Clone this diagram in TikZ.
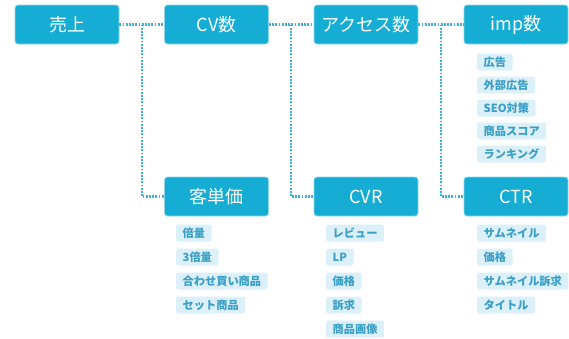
\documentclass[tikz,border=0pt]{standalone}
\usepackage{fontspec}
\setmainfont{Noto Sans CJK JP}
\usetikzlibrary{calc}
\definecolor{mainblue}{HTML}{15ADD3}
\definecolor{mainedge}{HTML}{8FD6EC}
\definecolor{tagfill}{HTML}{DBF0F8}
\definecolor{tagtext}{HTML}{3A9FC6}
\definecolor{dotcol}{HTML}{36B3DE}
\tikzset{
  mainbox/.style={draw=mainedge, line width=0.8pt, fill=mainblue, rounded corners=3pt,
    minimum width=104pt, minimum height=39pt, inner sep=0pt, text=white,
    font=\fontsize{18}{20}\selectfont},
  tagbox/.style={fill=tagfill, rounded corners=2pt, minimum height=17pt, inner xsep=6.5pt,
    inner ysep=0pt, text=tagtext, font=\bfseries\fontsize{11.2}{12}\selectfont, anchor=west},
  dotline/.style={draw=dotcol, line width=2.2pt, dash pattern=on 1.8pt off 1.4pt}
}
\begin{document}
\begin{tikzpicture}[x=1pt,y=-1pt]
\useasboundingbox (0,0) rectangle (569,338);
% main boxes
\node[mainbox] (uri) at (67,24.5) {売上};
\node[mainbox] (cv) at (216.5,24.5) {CV数};
\node[mainbox] (acc) at (366,24.5) {アクセス数};
\node[mainbox] (imp) at (516,24.5) {imp数};
\node[mainbox] (kyaku) at (216.5,196.5) {客単価};
\node[mainbox] (cvr) at (366,196.5) {CVR};
\node[mainbox] (ctr) at (516,196.5) {CTR};
% connectors
\coordinate (j1) at ($(uri.east)!0.5!(cv.west)$);
\coordinate (j2) at ($(cv.east)!0.5!(acc.west)$);
\coordinate (j3) at ($(acc.east)!0.5!(imp.west)$);
\draw[dotline] (uri.east) -- (cv.west);
\draw[dotline] (j1) |- (kyaku.west);
\draw[dotline] (cv.east) -- (acc.west);
\draw[dotline] (j2) |- (cvr.west);
\draw[dotline] (acc.east) -- (imp.west);
\draw[dotline] (j3) |- (ctr.west);
% imp tags
\node[tagbox] (i1) at (477,62) {広告};
\node[tagbox] (i2) at (477,85) {外部広告};
\node[tagbox] (i3) at (477,108) {SEO対策};
\node[tagbox] (i4) at (477,131) {商品スコア};
\node[tagbox] (i5) at (477,154) {ランキング};
% kyaku tags
\node[tagbox] (k1) at (176,233) {倍量};
\node[tagbox] (k2) at (176,257) {3倍量};
\node[tagbox] (k3) at (176,281) {合わせ買い商品};
\node[tagbox] (k4) at (176,305) {セット商品};
% cvr tags
\node[tagbox] (c1) at (326,233) {レビュー};
\node[tagbox] (c2) at (326,257) {LP};
\node[tagbox] (c3) at (326,281) {価格};
\node[tagbox] (c4) at (326,305) {訴求};
\node[tagbox] (c5) at (326,329) {商品画像};
% ctr tags
\node[tagbox] (t1) at (477,233) {サムネイル};
\node[tagbox] (t2) at (477,257) {価格};
\node[tagbox] (t3) at (477,281) {サムネイル訴求};
\node[tagbox] (t4) at (477,305) {タイトル};
\end{tikzpicture}
\end{document}
